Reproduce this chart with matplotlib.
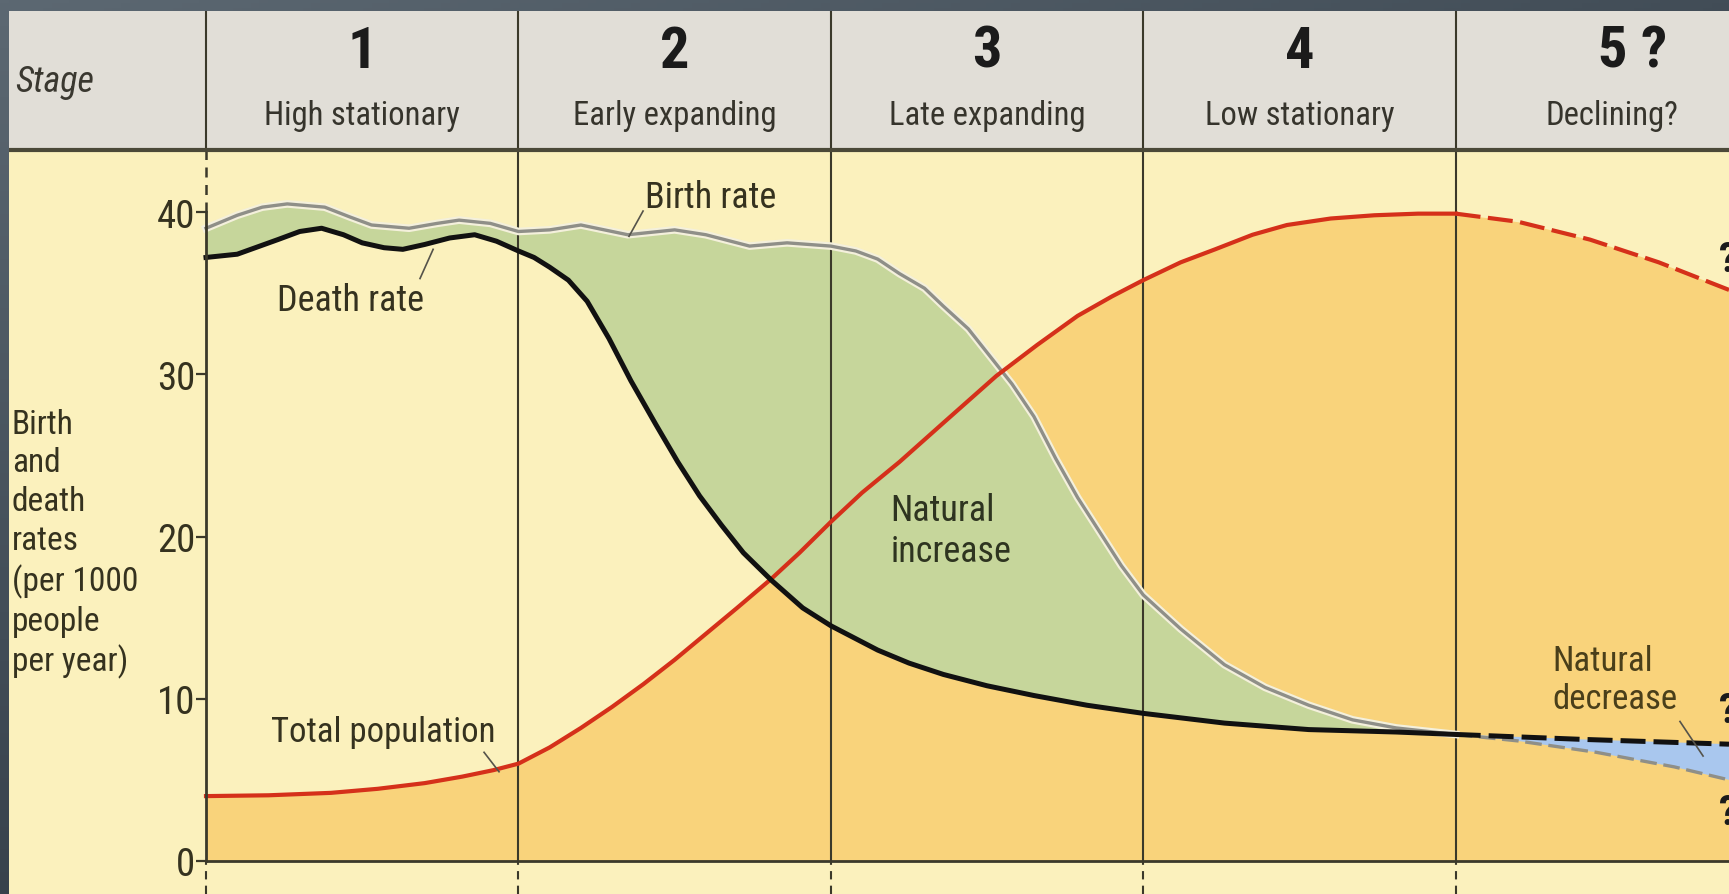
import numpy as np
import matplotlib
matplotlib.use("Agg")
import matplotlib.pyplot as plt
import matplotlib.patheffects as pe
from matplotlib import font_manager as fm

# look for a narrow sans face, the original uses a condensed type
font_stretch = "normal"
fam = None
names = {f.name for f in fm.fontManager.ttflist}
for cand in ["Liberation Sans Narrow", "Roboto Condensed", "Open Sans Condensed", "DejaVu Sans Condensed"]:
    if cand in names:
        fam = cand
        break
if fam is None:
    if any(f.name == "DejaVu Sans" and f.stretch in ("condensed", "semi-condensed") for f in fm.fontManager.ttflist):
        fam = "DejaVu Sans"
        font_stretch = "condensed"
        fs_k = 0.95
    else:
        fam = "Liberation Sans" if "Liberation Sans" in names else "DejaVu Sans"
        fs_k = 0.8
else:
    fs_k = 1.0
plt.rcParams['font.family'] = [fam, 'DejaVu Sans']
plt.rcParams['font.stretch'] = font_stretch

# header text
stage_numbers = ["1", "2", "3", "4", "5 ?"]
stage_names = ["High stationary", "Early expanding", "Late expanding", "Low stationary", "Declining?"]
yticks = [0, 10, 20, 30, 40]

birth_x = [0.00, 0.10, 0.18, 0.26, 0.38, 0.46, 0.53, 0.65, 0.74, 0.81, 0.91, 1.00, 1.10, 1.20, 1.35,
           1.50, 1.60, 1.74, 1.86, 2.00, 2.08, 2.15, 2.22, 2.30, 2.36, 2.44, 2.51, 2.58, 2.65, 2.72,
           2.79, 2.86, 2.93, 3.00, 3.12, 3.26, 3.39, 3.53, 3.67, 3.81, 4.00]
birth_y = [39.0, 39.8, 40.3, 40.5, 40.3, 39.7, 39.2, 39.0, 39.3, 39.5, 39.3, 38.8, 38.9, 39.2, 38.6,
           38.9, 38.6, 37.9, 38.1, 37.9, 37.6, 37.1, 36.2, 35.3, 34.2, 32.8, 31.1, 29.4, 27.4, 24.8,
           22.4, 20.3, 18.2, 16.4, 14.3, 12.1, 10.7, 9.6, 8.7, 8.2, 7.8]
birth_proj_x = [4.0, 4.2, 4.45, 4.7, 4.875]
birth_proj_y = [7.8, 7.4, 6.7, 5.8, 5.0]

death_x = [0.00, 0.10, 0.23, 0.30, 0.37, 0.44, 0.50, 0.57, 0.63, 0.70, 0.78, 0.86, 0.93, 1.00, 1.05,
           1.10, 1.16, 1.22, 1.29, 1.36, 1.44, 1.51, 1.58, 1.65, 1.72, 1.81, 1.91, 2.00, 2.08, 2.15,
           2.25, 2.36, 2.50, 2.65, 2.82, 3.00, 3.26, 3.53, 3.81, 4.00]
death_y = [37.2, 37.4, 38.3, 38.8, 39.0, 38.6, 38.1, 37.8, 37.7, 38.0, 38.4, 38.6, 38.2, 37.6, 37.2,
           36.6, 35.8, 34.5, 32.2, 29.6, 26.9, 24.6, 22.5, 20.7, 19.0, 17.3, 15.6, 14.5, 13.7, 13.0,
           12.2, 11.5, 10.8, 10.2, 9.6, 9.1, 8.5, 8.1, 7.95, 7.8]
death_proj_x = [4.0, 4.4, 4.875]
death_proj_y = [7.8, 7.5, 7.2]

pop_x = [0.00, 0.20, 0.40, 0.55, 0.70, 0.82, 0.92, 1.00, 1.10, 1.20, 1.30, 1.40, 1.50, 1.60, 1.70,
         1.81, 1.90, 2.00, 2.10, 2.22, 2.36, 2.53, 2.66, 2.79, 2.90, 3.00, 3.12, 3.23, 3.35, 3.46,
         3.60, 3.74, 3.88, 4.00]
pop_y = [4.0, 4.05, 4.2, 4.45, 4.8, 5.2, 5.6, 6.0, 7.0, 8.2, 9.5, 10.9, 12.4, 14.0, 15.6,
         17.4, 19.0, 20.9, 22.7, 24.6, 27.0, 29.9, 31.8, 33.6, 34.8, 35.8, 36.9, 37.7, 38.6, 39.2,
         39.6, 39.8, 39.9, 39.9]
pop_proj_x = [4.0, 4.2, 4.43, 4.65, 4.875]
pop_proj_y = [39.9, 39.4, 38.3, 36.9, 35.2]

# colours
c_bg = "#fbf1bd"
c_head = "#e1ded7"
c_orange = "#f9d37b"
c_green = "#c6d69b"
c_blue = "#a9c7ee"
c_red = "#d5301a"
c_grey = "#8f8f88"
c_line = "#3b392a"
c_text = "#35321f"

fig = plt.figure(figsize=(17.29, 8.95), dpi=100)

# dark slide background
bg = fig.add_axes([0, 0, 1, 1])
gy, gx = np.mgrid[0:1:200j, 0:1:200j]
top = np.array([0x5c, 0x68, 0x72]) / 255
bot = np.array([0x28, 0x32, 0x3c]) / 255
t = np.clip(0.7 * gy + 0.5 * gx, 0, 1)[..., None]
bg.imshow(top * (1 - t) + bot * t, extent=[0, 1, 0, 1], aspect="auto", origin="upper")
bg.axis("off")

# main panel: 312.4 px per stage, 16.225 px per rate unit
ax = fig.add_axes([9 / 1729, 0, 1720 / 1729, 883 / 895])
ax.set_facecolor(c_bg)
ax.set_xlim(-0.6306, 4.875)
ax.set_ylim(-2.034, 52.39)
head_y = 43.82

for s in ["top", "right"]:
    ax.spines[s].set_visible(False)
ax.spines["left"].set_position(("data", 0))
ax.spines["left"].set_bounds(0, 40)
ax.spines["bottom"].set_position(("data", 0))
ax.spines["bottom"].set_bounds(0, 4.875)
for s in ["left", "bottom"]:
    ax.spines[s].set_color(c_line)
    ax.spines[s].set_linewidth(2.0)
    ax.spines[s].set_zorder(6)
ax.set_xticks([])
ax.set_yticks(yticks)
ax.set_yticklabels([str(v) for v in yticks])
ax.tick_params(axis="y", direction="out", length=7, width=1.6, color=c_line,
               labelsize=28 * fs_k, labelcolor=c_text, pad=0.5)

# fills
ax.fill_between(pop_x + pop_proj_x[1:], 0, pop_y + pop_proj_y[1:], color=c_orange, lw=0, zorder=1)
ax.fill(birth_x + death_x[::-1], birth_y + death_y[::-1], color=c_green, lw=0, zorder=2)
ax.fill(death_proj_x + birth_proj_x[::-1], death_proj_y + birth_proj_y[::-1], color=c_blue, lw=0, zorder=2)

# stage boundaries
ax.vlines([1, 2, 3, 4], 0, head_y, color=c_line, lw=1.5, zorder=2.5)
ax.vlines([0, 1, 2, 3, 4], head_y, 52.39, color=c_line, lw=1.5, zorder=8)
ax.vlines([0], 40, head_y, color=c_line, lw=1.8, linestyles=(0, (4, 3)), zorder=2.5)
ax.vlines([0, 1, 2, 3, 4], -2.034, 0, color=c_line, lw=1.5, linestyles=(0, (4, 3)), zorder=2.5)

# curves
halo = [pe.withStroke(linewidth=5.5, foreground="#f4f0dc")]
ax.plot(birth_x, birth_y, color=c_grey, lw=2.4, zorder=3, path_effects=halo, solid_joinstyle="round")
ax.plot(birth_proj_x, birth_proj_y, color=c_grey, lw=2.4, ls=(0, (5, 2)), zorder=3)
ax.plot(pop_x, pop_y, color=c_red, lw=3.0, zorder=4, solid_joinstyle="round")
ax.plot(pop_proj_x, pop_proj_y, color=c_red, lw=3.0, ls=(0, (6, 1.8)), zorder=4)
ax.plot(death_x, death_y, color="#111111", lw=3.6, zorder=5, solid_joinstyle="round")
ax.plot(death_proj_x, death_proj_y, color="#111111", lw=3.6, ls=(0, (5, 1.6)), zorder=5)

# header band
ax.axhspan(head_y, 52.39, color=c_head, zorder=7)
ax.axhline(head_y, color="#4b4938", lw=3, zorder=8)
ax.text(-0.61, 48.1, "Stage", fontsize=26 * fs_k, style="italic", color="#3a3830",
        va="center", ha="left", zorder=9)
for i, (num, name) in enumerate(zip(stage_numbers, stage_names)):
    nx = i + 0.5 if i < 4 else 4.565
    ax.text(nx, 49.9, num, fontsize=42 * fs_k, fontweight="bold", color="#1b1b1b",
            ha="center", va="center", zorder=9)
    ax.text(i + 0.5, 46.0, name, fontsize=23.5 * fs_k, color="#36342c", ha="center", va="center", zorder=9)

# y-axis label
ax.text(-0.622, 19.6, "Birth\nand\ndeath\nrates\n(per 1000\npeople\nper year)", fontsize=24 * fs_k,
        color=c_text, ha="left", va="center", linespacing=1.27, zorder=9)

# annotations
ax.text(1.405, 40.9, "Birth rate", fontsize=26 * fs_k, color=c_text, ha="left", va="center", zorder=9)
ax.plot([1.399, 1.354], [40.06, 38.5], color="#55534a", lw=1.2, zorder=9)
ax.text(0.227, 34.6, "Death rate", fontsize=26 * fs_k, color=c_text, ha="left", va="center", zorder=9)
ax.plot([0.685, 0.727], [35.9, 37.7], color="#55534a", lw=1.2, zorder=9)
ax.text(0.208, 8.0, "Total population", fontsize=25 * fs_k, color=c_text, ha="left", va="center", zorder=9)
ax.plot([0.89, 0.938], [6.7, 5.5], color="#55534a", lw=1.2, zorder=9)
ax.text(2.19, 20.4, "Natural\nincrease", fontsize=26 * fs_k, color="#2e3420", ha="left", va="center",
        linespacing=1.18, zorder=9)
ax.text(4.31, 11.2, "Natural\ndecrease", fontsize=25 * fs_k, color="#4a3f1a", ha="left", va="center",
        linespacing=1.18, zorder=9)
ax.plot([4.718, 4.792], [8.6, 6.47], color="#55534a", lw=1.2, zorder=9)
for qy in [37.1, 9.3, 3.0]:
    ax.text(4.843, qy, "?", fontsize=30 * fs_k, fontweight="bold", color="#1b1b1b",
            ha="left", va="center", zorder=9)

fig.savefig("out.png", dpi=100)
